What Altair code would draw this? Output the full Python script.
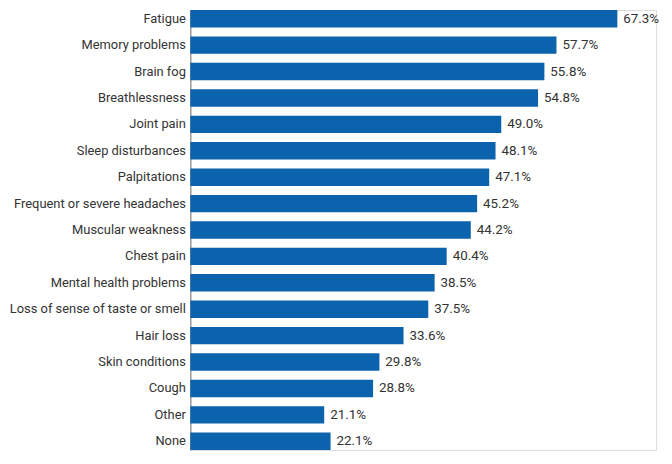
import altair as alt
import pandas as pd

symptoms = ["Fatigue", "Memory problems", "Brain fog", "Breathlessness", "Joint pain",
            "Sleep disturbances", "Palpitations", "Frequent or severe headaches",
            "Muscular weakness", "Chest pain", "Mental health problems",
            "Loss of sense of taste or smell", "Hair loss", "Skin conditions",
            "Cough", "Other", "None"]
values = [67.3, 57.7, 55.8, 54.8, 49.0, 48.1, 47.1, 45.2, 44.2, 40.4, 38.5,
          37.5, 33.6, 29.8, 28.8, 21.1, 22.1]

df = pd.DataFrame({"symptom": symptoms, "value": values})
df["label"] = df["value"].map(lambda v: f"{v:.1f}%")

FONT = "Roboto"

y = alt.Y("symptom:N", sort=symptoms, title=None,
          scale=alt.Scale(paddingInner=0.34, paddingOuter=0),
          axis=alt.Axis(ticks=False, labelPadding=5, labelFontSize=13, labelFont=FONT,
                        labelColor="#333333", domainColor="#8a8a8a", domainWidth=1.2,
                        labelLimit=300))
x = alt.X("value:Q", title=None, scale=alt.Scale(domain=[0, 73.4], nice=False),
          axis=None)

bars = alt.Chart(df).mark_bar(color="#0b62ad").encode(x=x, y=y)
text = alt.Chart(df).mark_text(align="left", baseline="middle", dx=6, fontSize=13.5,
                               font=FONT, color="#333333").encode(
    x=x, y=alt.Y("symptom:N", sort=symptoms), text="label:N")

chart = (bars + text).properties(
    width=470, height=444,
    autosize=alt.AutoSizeParams(type="none"),
    padding={"left": 184, "top": 0, "right": 8, "bottom": 0},
).configure_view(stroke=None).configure(background="white")

chart.save("out.html", embed_options={"renderer": "svg", "actions": False})
